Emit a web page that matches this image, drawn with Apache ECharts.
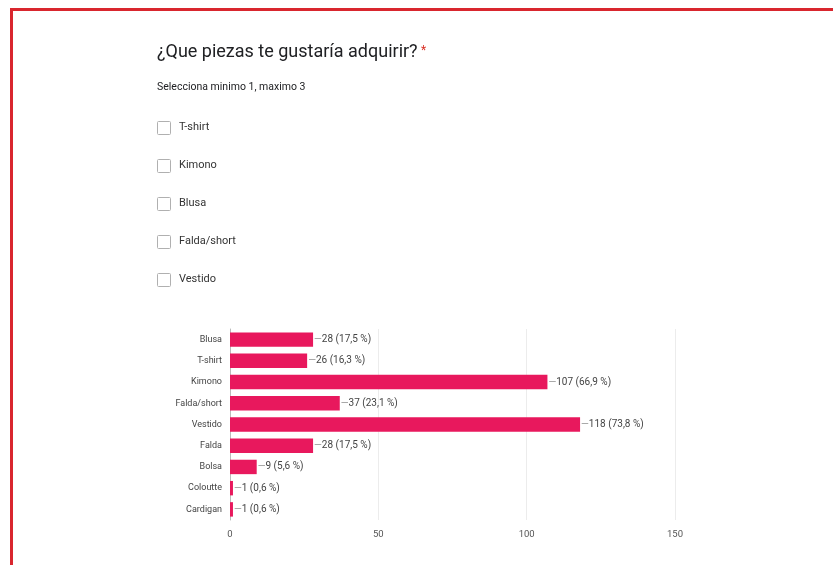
<!DOCTYPE html>
<html><head><meta charset="utf-8">
<script src="https://cdn.jsdelivr.net/npm/echarts@6/dist/echarts.min.js"></script>
<style>html,body{margin:0;padding:0;background:#fff}#c{width:833px;height:565px}</style>
</head><body><div id="c"></div>
<script>
const categories = ['Blusa','T-shirt','Kimono','Falda/short','Vestido','Falda','Bolsa','Coloutte','Cardigan'];
const values = [28, 26, 107, 37, 118, 28, 9, 1, 1];
const percents = ['17,5','16,3','66,9','23,1','73,8','17,5','5,6','0,6','0,6'];
const options = ['T-shirt','Kimono','Blusa','Falda/short','Vestido'];
const titleText = '¿Que piezas te gustaría adquirir?';
const subText = 'Selecciona minimo 1, maximo 3';
const xTicks = [0, 50, 100, 150];

const chart = echarts.init(document.getElementById('c'));
const font = 'Roboto, "Noto Sans", sans-serif';
const graphics = [
  {type:'rect', shape:{x:11.5, y:9.5, width:900, height:700}, style:{fill:null, stroke:'#d9262e', lineWidth:3}, silent:true},
  {type:'text', left:157, top:43, style:{text:titleText, font:'18px '+font, fill:'#202124'}},
  {type:'text', left:421, top:45, style:{text:'*', font:'12px '+font, fill:'#d93025'}},
  {type:'text', left:157, top:82, style:{text:subText, font:'10.5px '+font, fill:'#202124'}}
];
options.forEach((o,i)=>{
  const y = 121 + i*38;
  graphics.push({type:'rect', shape:{x:157.5, y:y+0.5, width:13, height:13, r:1}, style:{fill:'#fff', stroke:'#b0b0b0', lineWidth:1}});
  graphics.push({type:'text', left:179, top:y+1, style:{text:o, font:'11px '+font, fill:'#333'}});
});

chart.setOption({
  animation:false,
  backgroundColor:'#fff',
  graphic: graphics,
  grid:{left:230, right:158, top:329, bottom:45},
  xAxis:{type:'value', min:xTicks[0], max:xTicks[xTicks.length-1], interval:50,
    axisLine:{show:false}, axisTick:{show:false},
    splitLine:{show:true, lineStyle:{color:'#ececec'}},
    axisLabel:{color:'#555', fontSize:9.5, fontFamily:font, margin:10}},
  yAxis:{type:'category', data:categories, inverse:true,
    axisLine:{show:true, lineStyle:{color:'#bbb'}}, axisTick:{show:false},
    axisLabel:{color:'#444', fontSize:9, fontFamily:font, margin:8}},
  series:[{type:'bar', data:values, barCategoryGap:'32%',
    itemStyle:{color:'#e8185d'},
    label:{show:true, position:'right', distance:1, fontFamily:font, fontSize:10, color:'#444',
      formatter:p=>'{l|—}' + p.value + ' (' + percents[p.dataIndex] + ' %)',
      rich:{l:{color:'#999', fontSize:10}}}
  }]
});
</script></body></html>
